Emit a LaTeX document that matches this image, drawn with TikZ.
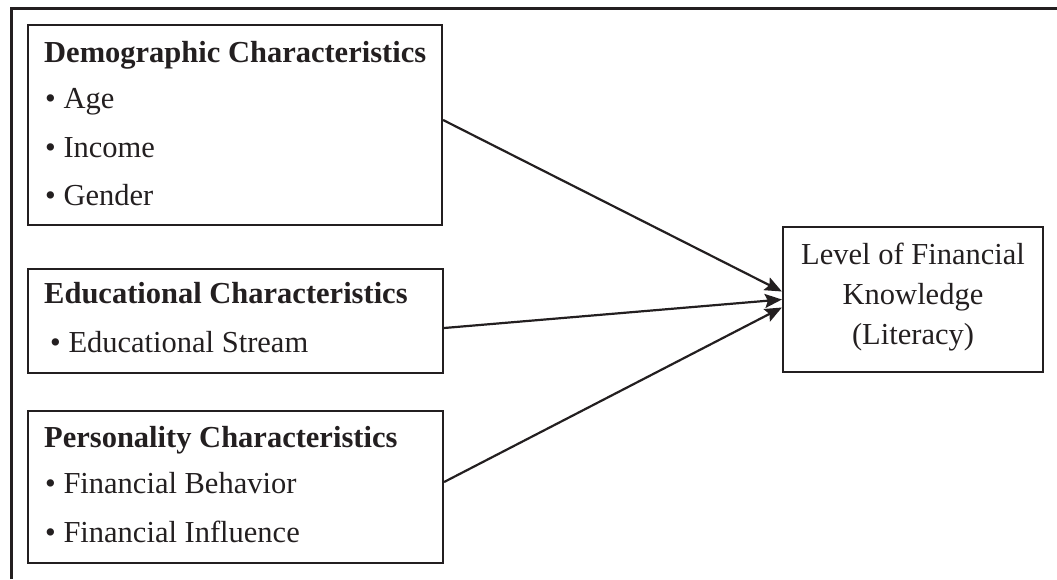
\documentclass[tikz,border=0pt]{standalone}
\usepackage{fontspec}
\setmainfont{Liberation Serif}
\usepackage{xcolor}
\usetikzlibrary{arrows.meta, positioning}
\definecolor{ink}{HTML}{231F20}

\tikzset{
  box/.style={draw=ink, line width=2.2pt, rectangle, inner sep=0pt},
  head/.style={anchor=base west, inner sep=0pt, text=ink, font=\fontsize{30.5}{36}\selectfont\bfseries},
  item/.style={anchor=base west, inner sep=0pt, text=ink, font=\fontsize{30.5}{36}\selectfont},
  link/.style={draw=ink, line width=2.2pt, -{Stealth[length=17pt, width=14pt, inset=3pt]}}
}

\begin{document}
\begin{tikzpicture}[x=1pt, y=-1pt]
\useasboundingbox (0,0) rectangle (1057,579);
% outer frame, only top and left show
\draw[ink, line width=3pt] (11,579) -- (11,8.5) -- (1057,8.5);

% characteristic boxes
\node[box, minimum width=414pt, minimum height=200pt] (demo) at (235,125) {};
\node[box, minimum width=415pt, minimum height=104pt] (edu) at (235.5,321) {};
\node[box, minimum width=415pt, minimum height=152pt] (pers) at (235.5,487) {};

% outcome box
\node[box, minimum width=260pt, minimum height=145pt] (know) at (913,299.5) {};

\node[head] (demohead) at (44,62) {Demographic Characteristics};
\node[item] (age) at (45,108) {• Age};
\node[item] (income) at (45,157) {• Income};
\node[item] (gender) at (45,205) {• Gender};

\node[head] (eduhead) at (44,303) {Educational Characteristics};
\node[item] (stream) at (50,352) {• Educational Stream};

\node[head] (pershead) at (44,447) {Personality Characteristics};
\node[item] (behav) at (45,493) {• Financial Behavior};
\node[item] (influ) at (45,542) {• Financial Influence};

\node[item, anchor=center, align=center, font=\fontsize{30.5}{40}\selectfont] (knowtext)
  at ([yshift=2pt]know.center) {Level of Financial\\Knowledge\\(Literacy)};

% arrows into the outcome
\draw[link] ([yshift=5pt]demo.east) -- ([yshift=8pt]know.west);
\draw[link] ([yshift=-7pt]edu.east) -- (know.west);
\draw[link] ([yshift=5pt]pers.east) -- ([yshift=-8pt]know.west);
\end{tikzpicture}
\end{document}
